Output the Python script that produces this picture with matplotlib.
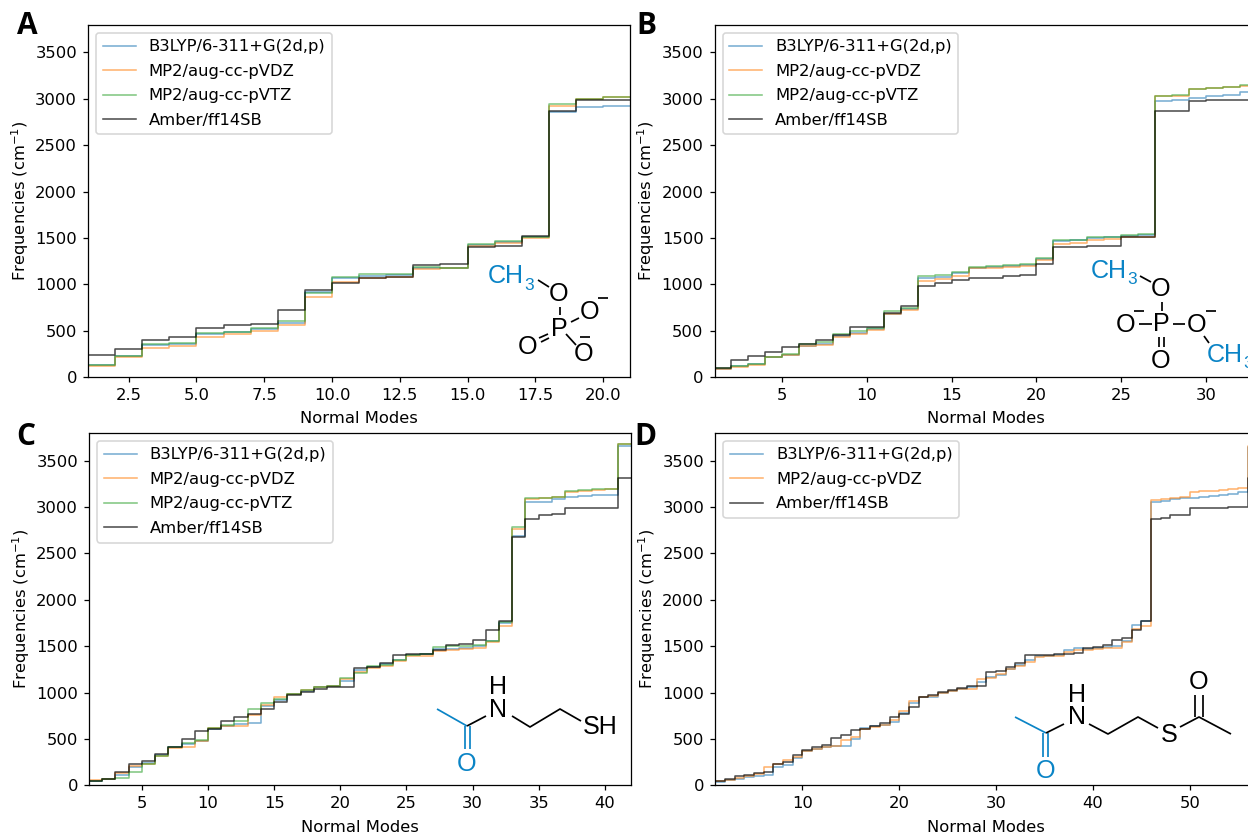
import numpy as np
import matplotlib
matplotlib.use('Agg')
import matplotlib.pyplot as plt

labels = ['B3LYP/6-311+G(2d,p)', 'MP2/aug-cc-pVDZ', 'MP2/aug-cc-pVTZ', 'Amber/ff14SB']
colors = ['tab:blue', 'tab:orange', 'tab:green', 'black']
alphas = [0.6, 0.6, 0.6, 0.7]

a_b3lyp = [126, 226, 345, 352, 460, 490, 518, 586, 920, 1065, 1085, 1100, 1172, 1180, 1424, 1453, 1514, 2856, 2906, 2917]
a_vdz = [122, 216, 317, 331, 435, 464, 493, 558, 867, 1029, 1065, 1083, 1162, 1173, 1414, 1442, 1496, 2924, 2996, 3014]
a_vtz = [133, 223, 352, 363, 478, 489, 525, 600, 903, 1083, 1115, 1108, 1190, 1178, 1435, 1471, 1507, 2942, 2999, 3018]
a_amber = [241, 302, 395, 432, 525, 561, 568, 723, 935, 1018, 1065, 1083, 1205, 1220, 1403, 1417, 1522, 2863, 2982, 2982]

b_b3lyp = [90, 115, 140, 216, 237, 338, 356, 439, 471, 518, 680, 734, 1072, 1083, 1120, 1180, 1187, 1198, 1205, 1277,
           1468, 1475, 1504, 1511, 1525, 1529, 2978, 2989, 3007, 3025, 3043, 3068]
b_vdz = [90, 112, 126, 212, 234, 331, 349, 428, 464, 507, 676, 719, 1036, 1061, 1090, 1173, 1180, 1191, 1198, 1266,
         1439, 1446, 1478, 1486, 1507, 1511, 3025, 3032, 3104, 3115, 3126, 3140]
b_vtz = [97, 119, 140, 219, 245, 352, 374, 460, 496, 529, 709, 748, 1086, 1104, 1130, 1191, 1194, 1209, 1216, 1281,
         1475, 1482, 1507, 1511, 1536, 1540, 3032, 3043, 3104, 3119, 3129, 3144]
b_amber = [94, 180, 230, 266, 320, 356, 396, 453, 536, 543, 694, 766, 982, 1014, 1047, 1065, 1068, 1094, 1104, 1216,
           1403, 1403, 1414, 1417, 1514, 1514, 2870, 2870, 2978, 2982, 2986, 2986]

c_b3lyp = [50, 65, 115, 201, 237, 324, 410, 446, 482, 612, 640, 662, 673, 856, 921, 989, 1018, 1054, 1065, 1119, 1245,
           1273, 1306, 1353, 1403, 1414, 1468, 1468, 1478, 1497, 1550, 1748, 2683, 3050, 3058, 3083, 3104, 3119, 3126, 3133, 3655]
c_vdz = [57, 68, 130, 209, 230, 317, 406, 410, 475, 615, 644, 644, 759, 863, 950, 986, 1022, 1054, 1072, 1147, 1216,
         1266, 1288, 1335, 1396, 1396, 1442, 1457, 1468, 1482, 1547, 1719, 2759, 3086, 3097, 3108, 3162, 3176, 3187, 3191, 3673]
c_vtz = [47, 65, 79, 144, 227, 317, 410, 460, 489, 615, 648, 698, 824, 885, 928, 989, 1025, 1061, 1072, 1151, 1209,
         1281, 1299, 1345, 1403, 1410, 1486, 1496, 1504, 1507, 1550, 1755, 2784, 3094, 3101, 3112, 3169, 3183, 3191, 3198, 3676]
c_amber = [50, 72, 140, 227, 266, 335, 414, 504, 590, 604, 694, 734, 773, 820, 896, 971, 1007, 1043, 1054, 1058, 1266,
           1277, 1317, 1403, 1410, 1414, 1453, 1507, 1518, 1565, 1673, 1770, 2673, 2874, 2914, 2921, 2989, 2989, 2989, 2993, 3309]

d_b3lyp = [40, 54, 65, 94, 104, 111, 201, 219, 291, 374, 388, 417, 424, 424, 496, 619, 640, 651, 680, 777, 885, 950, 957, 1000,
           1011, 1036, 1054, 1115, 1165, 1191, 1252, 1299, 1345, 1389, 1396, 1403, 1460, 1475, 1468, 1478, 1493, 1496, 1550, 1723,
           1766, 3050, 3065, 3090, 3094, 3101, 3112, 3122, 3129, 3140, 3158, 3650]
d_vdz = [47, 61, 83, 97, 119, 201, 227, 273, 309, 371, 396, 410, 428, 489, 518, 612, 633, 647, 705, 806, 906, 950, 964, 1000,
         1018, 1036, 1043, 1144, 1155, 1201, 1248, 1288, 1327, 1381, 1389, 1392, 1439, 1453, 1460, 1468, 1478, 1482, 1543, 1683,
         1712, 3076, 3083, 3101, 3108, 3165, 3169, 3176, 3183, 3198, 3205, 3655]
d_amber = [43, 65, 100, 115, 129, 144, 234, 255, 324, 381, 414, 435, 511, 540, 594, 612, 644, 669, 741, 770, 842, 957, 975, 1007,
           1022, 1050, 1065, 1072, 1219, 1230, 1277, 1317, 1406, 1406, 1406, 1410, 1414, 1421, 1478, 1486, 1514, 1561, 1586, 1676,
           1770, 2871, 2881, 2914, 2917, 2989, 2989, 2993, 2993, 2996, 2996, 3313]

W, H = 1248, 835
BLUE = '#0a84c6'

plt.rcParams['font.size'] = 10.45

fig = plt.figure(figsize=(W / 113, H / 113), dpi=113)


def panel(left, top, n, series, idx):
    width, height = 542.3, 352.6
    ax = fig.add_axes([left / W, 1 - (top + height) / H, width / W, height / H])
    for vals, i in zip(series, idx):
        x = np.arange(1, len(vals) + 2)
        y = list(vals) + [vals[-1]]
        ax.step(x, y, where='post', color=colors[i], alpha=alphas[i], lw=1, label=labels[i])
    ax.set_xlim(1, n)
    ax.set_ylim(0, 3800)
    ax.set_xlabel('Normal Modes', labelpad=5.3)
    ax.set_ylabel('Frequencies (cm$^{-1}$)', labelpad=2.7)
    ax.legend(loc='upper left', labelspacing=0.58)
    return ax


panel(88, 24.5, 21, [a_b3lyp, a_vdz, a_vtz, a_amber], [0, 1, 2, 3])
panel(714.5, 24.5, 33, [b_b3lyp, b_vdz, b_vtz, b_amber], [0, 1, 2, 3])
panel(89, 432.7, 42, [c_b3lyp, c_vdz, c_vtz, c_amber], [0, 1, 2, 3])
panel(715.2, 432.7, 57, [d_b3lyp, d_vdz, d_amber], [0, 1, 3])

# overlay in pixel coords for letters and molecules
ov = fig.add_axes([0, 0, 1, 1], facecolor='none', zorder=5)
ov.set_xlim(0, W)
ov.set_ylim(H, 0)
ov.axis('off')

for s, x, y in [('A', 27, 26), ('B', 646, 26), ('C', 26, 437), ('D', 645, 437)]:
    ov.text(x, y, s, family='Open Sans', weight='bold', fontsize=19, ha='center', va='center')


def atom(x, y, s, color='black', size=16):
    ov.text(x, y, s, family='Liberation Sans', fontsize=size, color=color, ha='center', va='center',
            linespacing=0.9)


def bond(pts, color='black'):
    ov.plot([p[0] for p in pts], [p[1] for p in pts], color=color, lw=1.1, solid_capstyle='butt')


def methyl(x, y):
    ov.text(x, y, 'CH', family='Liberation Sans', fontsize=16, color=BLUE, ha='left', va='center')
    ov.text(x + 41, y + 9, '3', family='Liberation Sans', fontsize=11, color=BLUE, ha='center', va='center')


# A
methyl(488, 276)
for x, y, s in [(559, 294, 'O'), (559, 329, 'P'), (590, 312, 'O'), (584, 354, 'O'), (528, 347, 'O')]:
    atom(x, y, s)
bond([(538, 280), (549, 287)])
bond([(560, 307), (560, 315)])
bond([(571, 322), (579, 318)])
bond([(566, 334), (576, 345)])
bond([(539, 338), (548, 334)])
bond([(541, 342), (549, 338)])
bond([(598, 298), (608, 298)])
bond([(580, 337), (590, 337)])

# B
methyl(1091, 271)
methyl(1207, 355)
for x, y, s in [(1161, 289, 'O'), (1161, 324, 'P'), (1126, 325, 'O'), (1197, 325, 'O'), (1161, 361, 'O')]:
    atom(x, y, s)
bond([(1140, 276), (1151, 282)])
bond([(1162, 302), (1162, 311)])
bond([(1139, 324), (1152, 324)])
bond([(1173, 324), (1185, 324)])
bond([(1159, 337), (1159, 347)])
bond([(1164, 337), (1164, 347)])
bond([(1204, 336), (1209, 343)])
bond([(1134, 311), (1144, 311)])
bond([(1206, 311), (1216, 311)])

# C
bond([(437, 709), (467, 726)], BLUE)
bond([(465, 726), (465, 749)], BLUE)
bond([(470, 726), (470, 749)], BLUE)
atom(467, 764, 'O', BLUE)
bond([(467, 726), (486, 716)])
atom(498, 698.5, 'H\nN')
bond([(512, 716), (530, 727), (560, 709), (581, 721)])
atom(600, 727, 'SH')

# D
bond([(1015, 717), (1046, 733)], BLUE)
bond([(1043, 733), (1043, 757)], BLUE)
bond([(1048, 733), (1048, 757)], BLUE)
atom(1046, 771, 'O', BLUE)
bond([(1046, 733), (1064, 724)])
atom(1077, 706, 'H\nN')
bond([(1089, 724), (1108, 734), (1138, 717), (1158, 728)])
atom(1169, 735, 'S')
bond([(1180, 727), (1199, 717), (1231, 734)])
bond([(1195, 695), (1195, 717)])
bond([(1203, 695), (1203, 717)])
atom(1199, 682, 'O')

fig.savefig('out.png', dpi=113)
